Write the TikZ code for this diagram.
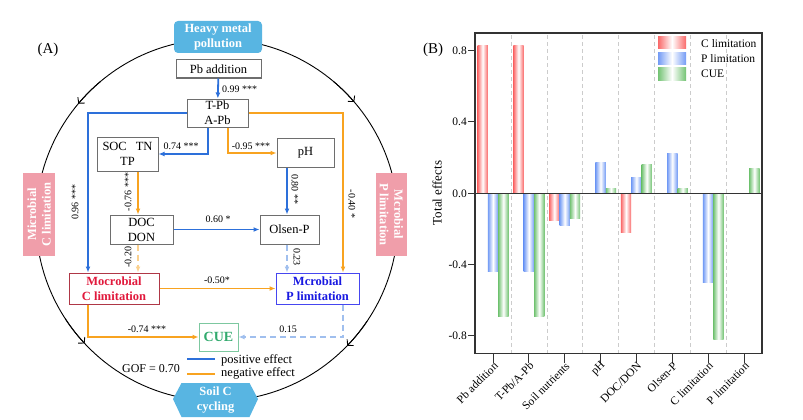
\documentclass[tikz,border=0pt]{standalone}
\usepackage{fontspec}
\setmainfont{Liberation Serif}
\usepackage{xcolor}
\usepackage{tikz}
\usetikzlibrary{positioning,arrows.meta}
\definecolor{posblue}{RGB}{45,112,218}
\definecolor{negorange}{RGB}{248,163,32}
\definecolor{boxgray}{RGB}{110,110,110}
\definecolor{skyfill}{RGB}{88,181,226}
\definecolor{pinkfill}{RGB}{240,158,170}
\definecolor{climred}{RGB}{225,25,60}
\definecolor{climedge}{RGB}{175,55,70}
\definecolor{plimblue}{RGB}{25,25,225}
\definecolor{plimedge}{RGB}{70,70,240}
\definecolor{cuegreen}{RGB}{50,170,110}
\definecolor{cueedge}{RGB}{125,200,160}
\definecolor{barred}{RGB}{250,105,105}
\definecolor{barblue}{RGB}{115,155,245}
\definecolor{bargreen}{RGB}{115,195,115}

\begin{document}
\begin{tikzpicture}[x=1pt, y=-1pt,
    box/.style = {draw=boxgray, line width=1pt, align=center, inner sep=0pt, font=\fontsize{12.5}{15}\selectfont},
    tagbox/.style = {fill=#1, text=white, align=center, inner sep=0pt, font=\bfseries\fontsize{12.5}{14.5}\selectfont},
    limbox/.style = {draw=#1, line width=1pt, align=center, inner sep=0pt, font=\bfseries\fontsize{12.5}{15}\selectfont},
    lbl/.style = {inner sep=0pt, font=\fontsize{10}{11}\selectfont},
    posarr/.style = {draw=posblue, line width=1.8pt, -{Latex[length=6pt,width=5pt]}},
    negarr/.style = {draw=negorange, line width=1.8pt, -{Latex[length=6pt,width=5pt]}},
    posdash/.style = {posarr, draw=posblue!45, dash pattern=on 6pt off 4pt},
    negdash/.style = {negarr, draw=negorange!50, dash pattern=on 6pt off 4pt},
    cycle arc/.style = {line width=0.9pt, -{Straight Barb[length=4pt,width=9pt]}},
    cbar/.style = {left color=barred, right color=barred, middle color=white},
    pbar/.style = {left color=barblue, right color=barblue, middle color=white},
    ebar/.style = {left color=bargreen, right color=bargreen, middle color=white},
    tick/.style = {inner sep=0pt, font=\fontsize{11.5}{12}\selectfont}]

\fill[white] (0,0) rectangle (803,420);
\useasboundingbox (0,0) rectangle (803,420);

% (A) path model
\node[font=\fontsize{15}{16}\selectfont] (tagA) at (48,50) {(A)};
\draw[line width=0.9pt] (217,220) circle [radius=181];
\draw[cycle arc] (217,220) ++(-130:181) arc [start angle=-130, end angle=-140, radius=181];
\draw[cycle arc] (217,220) ++(-50:181) arc [start angle=-50, end angle=-40.7, radius=181];
\draw[cycle arc] (217,220) ++(-213:181) arc [start angle=-213, end angle=-223, radius=181];
\draw[cycle arc] (217,220) ++(-326:181) arc [start angle=-326, end angle=-316, radius=181];

\node[tagbox=skyfill, rounded corners=4pt, minimum width=88pt, minimum height=32pt] (hmp) at (218,37) {Heavy metal\\pollution};
\node[tagbox=pinkfill, rotate=90, minimum width=83pt, minimum height=32pt] (microC) at (39,214.5) {Microbial\\C limitation};
\node[tagbox=pinkfill, rotate=-90, minimum width=83pt, minimum height=31pt] (microP) at (391.5,214.5) {Mcrobial\\P limitation};
\fill[skyfill] (173,399) -- (181.5,383) -- (249.5,383) -- (258,399) -- (249.5,417) -- (181.5,417) -- cycle;
\node[tagbox=skyfill, fill=none] (soil) at (215.5,400) {Soil C\\cycling};

\node[box, minimum width=85pt, minimum height=18pt] (pbadd) at (218.5,69) {Pb addition};
\node[box, minimum width=61pt, minimum height=28pt] (tpb) at (217.5,113) {T-Pb\\A-Pb};
\node[box, minimum width=61pt, minimum height=34pt] (soc) at (127.5,154) {SOC\hspace{9pt}TN\\TP};
\node[box, minimum width=57pt, minimum height=29pt] (ph) at (305.5,153) {pH};
\node[box, minimum width=63pt, minimum height=29pt] (doc) at (141.5,229.5) {DOC\\DON};
\node[box, minimum width=59pt, minimum height=29pt] (olsen) at (289.5,229.5) {Olsen-P};
\node[limbox=climedge, text=climred, minimum width=90pt, minimum height=31pt] (clim) at (114,288.5) {Mocrobial\\C limitation};
\node[limbox=plimedge, text=plimblue, minimum width=83pt, minimum height=31pt] (plim) at (317.5,288.5) {Mcrobial\\P limitation};
\node[limbox=cueedge, text=cuegreen, minimum width=39pt, minimum height=28pt, font=\bfseries\fontsize{14}{15}\selectfont] (cue) at (218.5,337) {CUE};

\draw[posarr] (pbadd) -- (tpb);
\draw[posarr] (tpb.west) -| ([xshift=-26pt]clim.north);
\draw[posarr] ([xshift=-9.5pt]tpb.south) |- (soc.east);
\draw[negarr] ([xshift=10.5pt]tpb.south) |- (ph.west);
\draw[negarr] (tpb.east) -| ([xshift=25.5pt]plim.north);
\draw[negarr] ([xshift=-3.5pt]doc.north |- soc.south) -- ([xshift=-3.5pt]doc.north);
\draw[posarr] ([xshift=-2.5pt]olsen.north |- ph.south) -- ([xshift=-2.5pt]olsen.north);
\draw[posarr] (doc) -- (olsen);
\draw[negdash] ([xshift=-3.5pt]doc.south) -- ([xshift=-3.5pt]doc.south |- clim.north);
\draw[posdash] ([xshift=-2.5pt]olsen.south) -- ([xshift=-2.5pt]olsen.south |- plim.north);
\draw[negarr] (clim) -- (plim);
\draw[negarr] ([xshift=-26pt]clim.south) |- (cue.west);
\draw[posdash] ([xshift=25.5pt]plim.south) |- (cue.east);

\node[lbl, anchor=west] (e1) at (222,89) {0.99 ***};
\node[lbl] (e2) at (181,146) {0.74 ***};
\node[lbl] (e3) at (251,146) {-0.95 ***};
\node[lbl, rotate=90] (e4) at (75,202) {0.96 ***};
\node[lbl, rotate=90] (e5) at (128,192) {-0.76 ***};
\node[lbl, rotate=90] (e6) at (128,257) {-0.20};
\node[lbl, rotate=-90] (e7) at (295,189) {0.80 **};
\node[lbl, rotate=-90] (e8) at (297,257) {0.23};
\node[lbl, rotate=-90] (e9) at (352,204) {-0.40 *};
\node[lbl] (e10) at (218,219) {0.60 *};
\node[lbl] (e11) at (217,280) {-0.50*};
\node[lbl] (e12) at (147,329) {-0.74 ***};
\node[lbl] (e13) at (288,329) {0.15};

\coordinate (posA) at (187,359);
\coordinate (posB) at (215,359);
\coordinate (negA) at (187,374);
\coordinate (negB) at (215,374);
\draw[posblue, line width=2.8pt] (posA) -- (posB);
\draw[negorange, line width=2.8pt] (negA) -- (negB);
\node[anchor=west, inner sep=0pt, font=\fontsize{12.5}{13}\selectfont] (posT) at (221,360) {positive effect};
\node[anchor=west, inner sep=0pt, font=\fontsize{12.5}{13}\selectfont] (negT) at (221,373) {negative effect};
\node[inner sep=0pt, font=\fontsize{12}{13}\selectfont] (gof) at (151,369) {GOF = 0.70};

% (B) total effects
\node[font=\fontsize{15}{16}\selectfont] (tagB) at (433,50) {(B)};
\node[rotate=90, font=\fontsize{13}{14}\selectfont] (ylab) at (437,193) {Total effects};
\begin{scope}[shift={(0,193.3)}, y=178.3pt]
  \draw[gray!40, dash pattern=on 4pt off 3pt] (510.9,-0.9) -- (510.9,0.9);
  \draw[gray!40, dash pattern=on 4pt off 3pt] (546.7,-0.9) -- (546.7,0.9);
  \draw[gray!40, dash pattern=on 4pt off 3pt] (582.6,-0.9) -- (582.6,0.9);
  \draw[gray!40, dash pattern=on 4pt off 3pt] (618.4,-0.9) -- (618.4,0.9);
  \draw[gray!40, dash pattern=on 4pt off 3pt] (654.3,-0.9) -- (654.3,0.9);
  \draw[gray!40, dash pattern=on 4pt off 3pt] (690.1,-0.9) -- (690.1,0.9);
  \draw[gray!40, dash pattern=on 4pt off 3pt] (726,-0.9) -- (726,0.9);

  \shade[cbar] (477.5,0) rectangle (487.8,0.83);
  \shade[pbar] (487.8,0) rectangle (498.2,-0.44);
  \shade[ebar] (498.2,0) rectangle (508.5,-0.69);
  \shade[cbar] (513.4,0) rectangle (523.7,0.83);
  \shade[pbar] (523.7,0) rectangle (534.1,-0.44);
  \shade[ebar] (534.1,0) rectangle (544.4,-0.69);
  \shade[cbar] (549.2,0) rectangle (559.5,-0.155);
  \shade[pbar] (559.5,0) rectangle (569.9,-0.18);
  \shade[ebar] (569.9,0) rectangle (580.2,-0.14);
  \shade[pbar] (595.4,0) rectangle (605.8,0.175);
  \shade[ebar] (605.8,0) rectangle (616.1,0.025);
  \shade[cbar] (620.9,0) rectangle (631.2,-0.22);
  \shade[pbar] (631.2,0) rectangle (641.6,0.09);
  \shade[ebar] (641.6,0) rectangle (651.9,0.16);
  \shade[pbar] (667.1,0) rectangle (677.5,0.225);
  \shade[ebar] (677.5,0) rectangle (687.8,0.025);
  \shade[pbar] (702.9,0) rectangle (713.3,-0.50);
  \shade[ebar] (713.3,0) rectangle (723.6,-0.82);
  \shade[ebar] (749.2,0) rectangle (759.5,0.14);

  \draw[line width=1pt, black!80] (475,0) -- (762,0);
  \draw[line width=1.2pt, black!80] (475,-0.9) rectangle (762,0.899);

  \draw[line width=1pt, black!80] (468,0.8) -- (475,0.8);
  \draw[line width=1pt, black!80] (468,0.4) -- (475,0.4);
  \draw[line width=1pt, black!80] (468,0) -- (475,0);
  \draw[line width=1pt, black!80] (468,-0.4) -- (475,-0.4);
  \draw[line width=1pt, black!80] (468,-0.8) -- (475,-0.8);
  \node[tick, anchor=east] (t1) at (467,0.8) {0.8};
  \node[tick, anchor=east] (t2) at (467,0.4) {0.4};
  \node[tick, anchor=east] (t3) at (467,0) {0.0};
  \node[tick, anchor=east] (t4) at (467,-0.4) {-0.4};
  \node[tick, anchor=east] (t5) at (467,-0.8) {-0.8};

  \draw[line width=1pt, black!80] (493,-0.9) -- (493,-0.95);
  \draw[line width=1pt, black!80] (528.9,-0.9) -- (528.9,-0.95);
  \draw[line width=1pt, black!80] (564.7,-0.9) -- (564.7,-0.95);
  \draw[line width=1pt, black!80] (600.6,-0.9) -- (600.6,-0.95);
  \draw[line width=1pt, black!80] (636.4,-0.9) -- (636.4,-0.95);
  \draw[line width=1pt, black!80] (672.3,-0.9) -- (672.3,-0.95);
  \draw[line width=1pt, black!80] (708.1,-0.9) -- (708.1,-0.95);
  \draw[line width=1pt, black!80] (744,-0.9) -- (744,-0.95);
\end{scope}

\node[tick, rotate=45, anchor=east] (x1) at (496,364) {Pb addition};
\node[tick, rotate=45, anchor=east] (x2) at (531.9,364) {T-Pb/A-Pb};
\node[tick, rotate=45, anchor=east] (x3) at (567.7,364) {Soil nutrients};
\node[tick, rotate=45, anchor=east] (x4) at (603.6,364) {pH};
\node[tick, rotate=45, anchor=east] (x5) at (639.4,364) {DOC/DON};
\node[tick, rotate=45, anchor=east] (x6) at (675.3,364) {Olsen-P};
\node[tick, rotate=45, anchor=east] (x7) at (711.1,364) {C limitation};
\node[tick, rotate=45, anchor=east] (x8) at (747,364) {P limitation};

\shade[cbar] (658,37) rectangle (686,49);
\shade[pbar] (658,53) rectangle (686,65);
\shade[ebar] (658,68) rectangle (686,80);
\node[tick, anchor=west] (leg1) at (701,44) {C limitation};
\node[tick, anchor=west] (leg2) at (701,59) {P limitation};
\node[tick, anchor=west] (leg3) at (701,74) {CUE};
\end{tikzpicture}
\end{document}
